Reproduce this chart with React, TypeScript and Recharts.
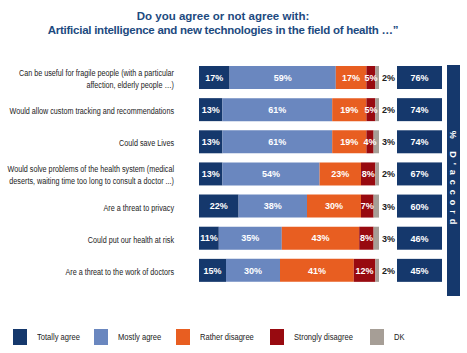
import React from 'react'
import { BarChart, Bar, XAxis, YAxis, LabelList, Legend } from 'recharts'

const statements = [
  'Can be useful for fragile people (with a particular|affection, elderly people …)',
  'Would allow custom tracking and recommendations',
  'Could save Lives',
  'Would solve problems of the health system (medical|deserts, waiting time too long to consult a doctor ...)',
  'Are a threat to privacy',
  'Could put our health at risk',
  'Are a threat to the work of doctors',
]
const totallyAgree = [17, 13, 13, 13, 22, 11, 15]
const mostlyAgree = [59, 61, 61, 54, 38, 35, 30]
const ratherDisagree = [17, 19, 19, 23, 30, 43, 41]
const stronglyDisagree = [5, 5, 4, 8, 7, 8, 12]
const dontKnow = [2, 2, 3, 2, 3, 3, 2]

const series = [
  { key: 'totally', name: 'Totally agree', color: '#15386c' },
  { key: 'mostly', name: 'Mostly agree', color: '#6a87bf' },
  { key: 'rather', name: 'Rather disagree', color: '#e85e21' },
  { key: 'strongly', name: 'Strongly disagree', color: '#980a10' },
  { key: 'dk', name: 'DK', color: '#a69e96' },
]

const rows = statements.map((label, i) => ({
  label,
  totally: totallyAgree[i],
  mostly: mostlyAgree[i],
  rather: ratherDisagree[i],
  strongly: stronglyDisagree[i],
  dk: dontKnow[i],
  accord: totallyAgree[i] + mostlyAgree[i],
}))

const SANS = "'Liberation Sans', Arial, sans-serif"

// labels are set in a condensed face in the original, so squeeze horizontally
const StatementTick = (props: any) => {
  const { x, y, payload } = props
  const lines = String(payload.value).split('|')
  const right = x - 17
  const startY = y + 5 - ((lines.length - 1) * 12) / 2
  return (
    <g transform={`translate(${right},0) scale(0.76,1)`}>
      <text x={0} y={startY} textAnchor="end" fontFamily={SANS} fontSize={9.5} fill="#222">
        {lines.map((l, i) => (
          <tspan key={i} x={0} y={startY + i * 12}>
            {l}
          </tspan>
        ))}
      </text>
    </g>
  )
}

const pct = (v: any) => `${v}%`

// "2%" after the bar end plus the navy box with the total agree score
const DkLabel = (props: any) => {
  const { x, y, width, height, index } = props
  const cy = y + height / 2
  return (
    <g>
      <text x={x + width + 3} y={cy + 3.5} fontFamily={SANS} fontWeight="bold" fontSize={9} fill="#222">
        {dontKnow[index]}%
      </text>
      <rect x={397} y={y} width={45} height={height} fill="#15386c" />
      <text x={419.5} y={cy + 3.5} textAnchor="middle" fontFamily={SANS} fontWeight="bold" fontSize={9} fill="#fff">
        {rows[index].accord}%
      </text>
    </g>
  )
}

const LegendBox = () => (
  <div style={{ display: 'flex', alignItems: 'center', fontFamily: SANS, fontSize: 9, color: '#222' }}>
    {series.map((s) => (
      <div key={s.key} style={{ display: 'flex', alignItems: 'center', marginRight: 13 }}>
        <span style={{ width: 14, height: 16, background: s.color, display: 'inline-block', marginRight: 10 }} />
        <span style={{ display: 'inline-block', transform: 'scaleX(0.84)', transformOrigin: 'left center', marginRight: -7 }}>
          {s.name}
        </span>
      </div>
    ))}
  </div>
)

export default function App() {
  return (
    <div style={{ position: 'absolute', left: 0, top: 0, width: 467, height: 353, background: '#fff' }}>
      <BarChart
        width={467}
        height={353}
        layout="vertical"
        data={rows}
        margin={{ top: 61, right: 88, bottom: 51, left: 0 }}
        barCategoryGap={11}
      >
        <XAxis type="number" domain={[0, 100]} hide />
        <YAxis
          type="category"
          dataKey="label"
          width={199}
          axisLine={false}
          tickLine={false}
          tick={<StatementTick />}
          interval={0}
        />
        {series.map((s) => (
          <Bar key={s.key} dataKey={s.key} name={s.name} stackId="a" fill={s.color} barSize={23} isAnimationActive={false}>
            {s.key === 'dk' ? (
              <LabelList dataKey="dk" content={<DkLabel />} />
            ) : (
              <LabelList
                dataKey={s.key}
                position="center"
                formatter={pct}
                fill="#fff"
                fontFamily={SANS}
                fontWeight="bold"
                fontSize={9}
              />
            )}
          </Bar>
        ))}
        <Legend
          verticalAlign="bottom"
          align="left"
          content={<LegendBox />}
          wrapperStyle={{ left: 13, bottom: 8, width: 440 }}
        />
      </BarChart>
      <svg width={467} height={353} style={{ position: 'absolute', left: 0, top: 0, pointerEvents: 'none' }}>
        <text x={223} y={20} textAnchor="middle" fontFamily={SANS} fontWeight="bold" fontSize={11.5} fill="#1d4a80">
          Do you agree or not agree with:
        </text>
        <text x={223} y={34} textAnchor="middle" fontFamily={SANS} fontWeight="bold" fontSize={11.5} letterSpacing={-0.25} fill="#1d4a80">
          Artificial intelligence and new technologies in the field of health …”
        </text>
        <rect x={447} y={65} width={13} height={231} fill="#15386c" />
        <text
          transform="translate(450,180) rotate(90)"
          textAnchor="middle"
          fontFamily={SANS}
          fontWeight="bold"
          fontSize={9}
          letterSpacing={5}
          fill="#fff"
        >
          % D'accord
        </text>
      </svg>
    </div>
  )
}
